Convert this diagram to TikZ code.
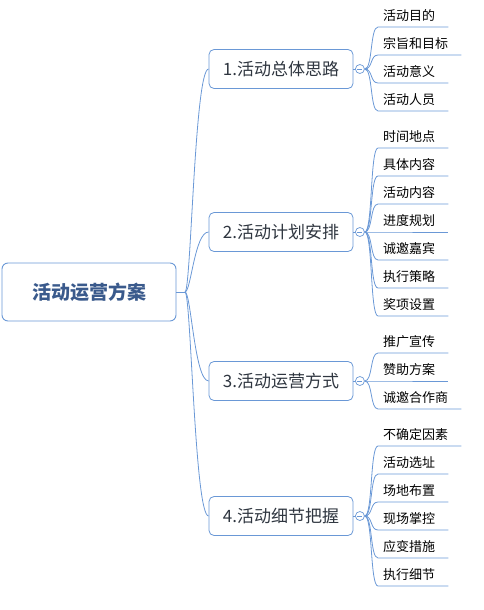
\documentclass[tikz,border=0pt]{standalone}
\usepackage{fontspec}
\setmainfont{Noto Sans CJK SC}
\usepackage{xcolor}
\usepackage{tikz}
\usetikzlibrary{calc}
\definecolor{linkblue}{HTML}{6A98D6}
\definecolor{titleblue}{HTML}{3A5A8C}
\definecolor{topicgray}{HTML}{2F3640}

\tikzset{
  rootbox/.style={draw=linkblue, fill=white, rounded corners=6pt, line width=0.9pt,
    minimum width=174pt, minimum height=58pt, text=titleblue,
    font=\fontsize{19}{22}\selectfont\bfseries},
  topicbox/.style={draw=linkblue, fill=white, rounded corners=5pt, line width=0.8pt,
    minimum width=144pt, minimum height=39pt, text=topicgray,
    font=\fontsize{17}{20}\selectfont},
  toggle/.style={circle, draw=linkblue, fill=white, line width=0.7pt,
    minimum size=9pt, inner sep=0pt,
    path picture={\draw[linkblue, line width=0.7pt]
      ([xshift=-2.5pt]path picture bounding box.center) --
      ([xshift=2.5pt]path picture bounding box.center);}},
  leaf/.style={anchor=south west, inner xsep=5pt, inner ysep=0pt,
    minimum height=23pt, font=\fontsize{13}{15}\selectfont},
  link/.style={draw=linkblue, line width=0.8pt},
}

\begin{document}
\begin{tikzpicture}[x=1pt, y=-1pt]
    \useasboundingbox (0,0) rectangle (484,610);
    \node[rootbox] (plan) at (89,292) {活动运营方案};
    \coordinate (fork) at (185,292);
    \draw[link] (plan.east) -- (fork);
    \foreach \b/\y/\txt in {1/69/1.活动总体思路, 2/232/2.活动计划安排,
                            3/381/3.活动运营方式, 4/516/4.活动细节把握}{
      \node[topicbox] (b\b) at (281,\y) {\txt};
      \draw[link] (fork) .. controls ($(fork)+(6,0)$) and ($(b\b.west)+(-14,0)$) .. (b\b.west);
      \node[toggle] (t\b) at ($(b\b.east)+(6.5,0)$) {};
      \draw[link] (b\b.east) -- (t\b.west);
    }
    \foreach \b/\y/\txt [count=\k] in {
        1/27/活动目的, 1/55/宗旨和目标, 1/83/活动意义, 1/111/活动人员,
        2/148/时间地点, 2/176/具体内容, 2/204/活动内容, 2/232/进度规划,
        2/260/诚邀嘉宾, 2/288/执行策略, 2/316/奖项设置,
        3/353/推广宣传, 3/381/赞助方案, 3/409/诚邀合作商,
        4/446/不确定因素, 4/474/活动选址, 4/502/场地布置, 4/530/现场掌控,
        4/558/应变措施, 4/586/执行细节}{
      \node[leaf] (leaf\k) at (378,\y) {\txt};
      \draw[link] (t\b.east) .. controls ($(t\b.east)+(8,0)$) and ($(leaf\k.south west)+(-8,0)$)
        .. (leaf\k.south west) -- ([xshift=8pt]leaf\k.south east);
    }
\end{tikzpicture}
\end{document}
